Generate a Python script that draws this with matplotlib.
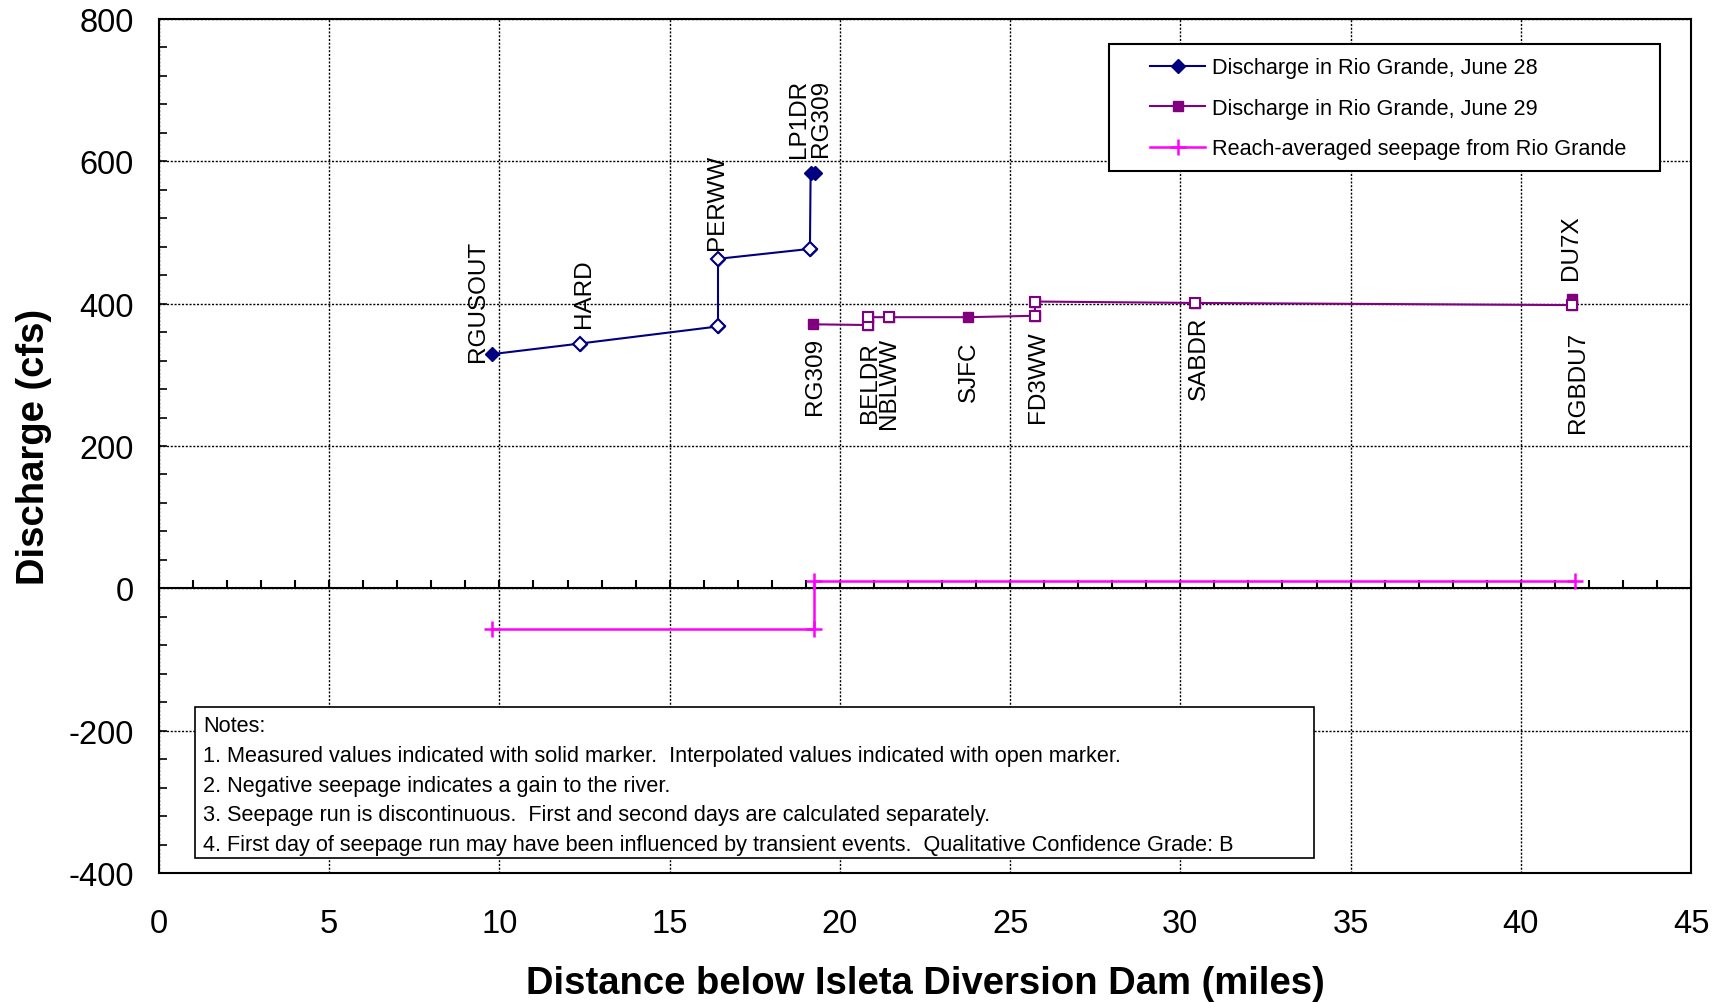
import matplotlib.pyplot as plt
from matplotlib.patches import Rectangle
from matplotlib.ticker import MultipleLocator

plt.rcParams['font.family'] = ['Liberation Sans', 'DejaVu Sans']
plt.rcParams['axes.unicode_minus'] = False

# June 28 discharge (miles below Isleta Diversion Dam, cfs)
jun28_x = [9.77, 12.37, 16.42, 16.42, 19.12, 19.14, 19.26]
jun28_y = [329, 344, 368, 463, 477, 583, 583]
jun28_measured = [True, False, False, False, False, True, True]

# June 29 discharge
jun29_x = [19.20, 20.84, 20.84, 21.45, 23.75, 25.73, 25.73, 30.43, 41.50, 41.50]
jun29_y = [371, 370, 381, 381, 381, 383, 403, 401, 398, 406]
jun29_measured = [True, False, False, False, True, False, False, False, False, True]

# reach-averaged seepage
seep_x = [9.77, 19.24, 19.24, 41.58]
seep_y = [-57, -57, 11, 11]

# site labels: name, x, y, vertical anchor
site_names = ['RGUSOUT', 'HARD', 'PERWW', 'LP1DR', 'RG309',
              'RG309', 'BELDR', 'NBLWW', 'SJFC', 'FD3WW', 'SABDR', 'RGBDU7', 'DU7X']
site_x = [9.36, 12.49, 16.39, 18.79, 19.45, 19.27, 20.87, 21.45, 23.8, 25.81, 30.55, 41.67, 41.48]
site_y = [320, 367, 477, 606, 608, 353, 347, 353, 348, 363, 383, 362, 435]
site_va = ['bottom', 'bottom', 'bottom', 'bottom', 'bottom',
           'top', 'top', 'top', 'top', 'top', 'top', 'top', 'bottom']

x_ticks = [0, 5, 10, 15, 20, 25, 30, 35, 40, 45]

notes = ["Notes:",
         "1. Measured values indicated with solid marker.  Interpolated values indicated with open marker.",
         "2. Negative seepage indicates a gain to the river.",
         "3. Seepage run is discontinuous.  First and second days are calculated separately.",
         "4. First day of seepage run may have been influenced by transient events.  Qualitative Confidence Grade: B"]

navy = '#000080'
purple = '#800080'
magenta = '#FF00FF'

fig = plt.figure(figsize=(17.22, 10.03), dpi=100)
ax = fig.add_axes([159/1722, 1 - 874/1003, 1532/1722, 854/1003])

ax.plot(jun28_x, jun28_y, color=navy, lw=1.5, marker='D', ms=7.5, mfc=navy, mec=navy,
        label='Discharge in Rio Grande, June 28', zorder=4)
ax.plot([x for x, m in zip(jun28_x, jun28_measured) if not m],
        [y for y, m in zip(jun28_y, jun28_measured) if not m],
        ls='none', marker='D', ms=7.5, mfc='white', mec=navy, mew=1.5, zorder=5)

ax.plot(jun29_x, jun29_y, color=purple, lw=1.5, marker='s', ms=7.5, mfc=purple, mec=purple,
        label='Discharge in Rio Grande, June 29', zorder=4)
ax.plot([x for x, m in zip(jun29_x, jun29_measured) if not m],
        [y for y, m in zip(jun29_y, jun29_measured) if not m],
        ls='none', marker='s', ms=7.5, mfc='white', mec=purple, mew=1.5, zorder=5)

ax.plot(seep_x, seep_y, color=magenta, lw=1.8, marker='+', ms=11, mew=1.8,
        label='Reach-averaged seepage from Rio Grande', zorder=4)

for name, x, y, va in zip(site_names, site_x, site_y, site_va):
    ax.text(x, y, name, rotation=90, ha='center', va=va, fontsize=17.5)

ax.set_xlim(0, 45)
ax.set_ylim(-400, 800)

ax.xaxis.set_major_locator(MultipleLocator(5))
ax.xaxis.set_minor_locator(MultipleLocator(1))
ax.yaxis.set_major_locator(MultipleLocator(200))
ax.yaxis.set_minor_locator(MultipleLocator(40))
ax.grid(True, which='major', color='black', ls=(0, (1.5, 1.2)), lw=1.0)

# x axis drawn at zero, labels at the bottom frame
ax.spines['bottom'].set_position(('data', 0))
for s in ax.spines.values():
    s.set_linewidth(1.5)
ax.tick_params(axis='x', which='both', direction='in', length=6, width=1.5, labelbottom=False)
ax.tick_params(axis='y', which='both', direction='in', length=6, width=1.2, labelsize=23.5, pad=18)

sec = ax.secondary_xaxis(0.0)
sec.set_xticks(x_ticks)
sec.tick_params(length=0, labelsize=23.5, pad=25)
sec.spines['bottom'].set_linewidth(1.5)
sec.set_xlabel('Distance below Isleta Diversion Dam (miles)', fontsize=27.5, fontweight='bold', labelpad=19)

ax.set_ylabel('Discharge (cfs)', fontsize=27.5, fontweight='bold', labelpad=12)

ax.add_patch(Rectangle((1.06, -379), 32.87, 212, facecolor='white', edgecolor='black', lw=1.2, zorder=6))
ax.text(1.3, -178, "\n".join(notes), fontsize=15.6, va='top', ha='left', linespacing=1.55, zorder=7)

# legend frame is wider than its contents, so draw it as a patch
ax.add_patch(Rectangle((0.620, 0.822), 0.360, 0.1485, transform=ax.transAxes,
                       facecolor='white', edgecolor='black', lw=1.5, zorder=7))
leg = ax.legend(loc='upper left', bbox_to_anchor=(0.647, 0.955), borderaxespad=0, borderpad=0,
                fontsize=15.6, frameon=False, handlelength=2.55, labelspacing=0.9, handletextpad=0.3)
leg.set_zorder(8)

plt.savefig('out.png', dpi=100)
